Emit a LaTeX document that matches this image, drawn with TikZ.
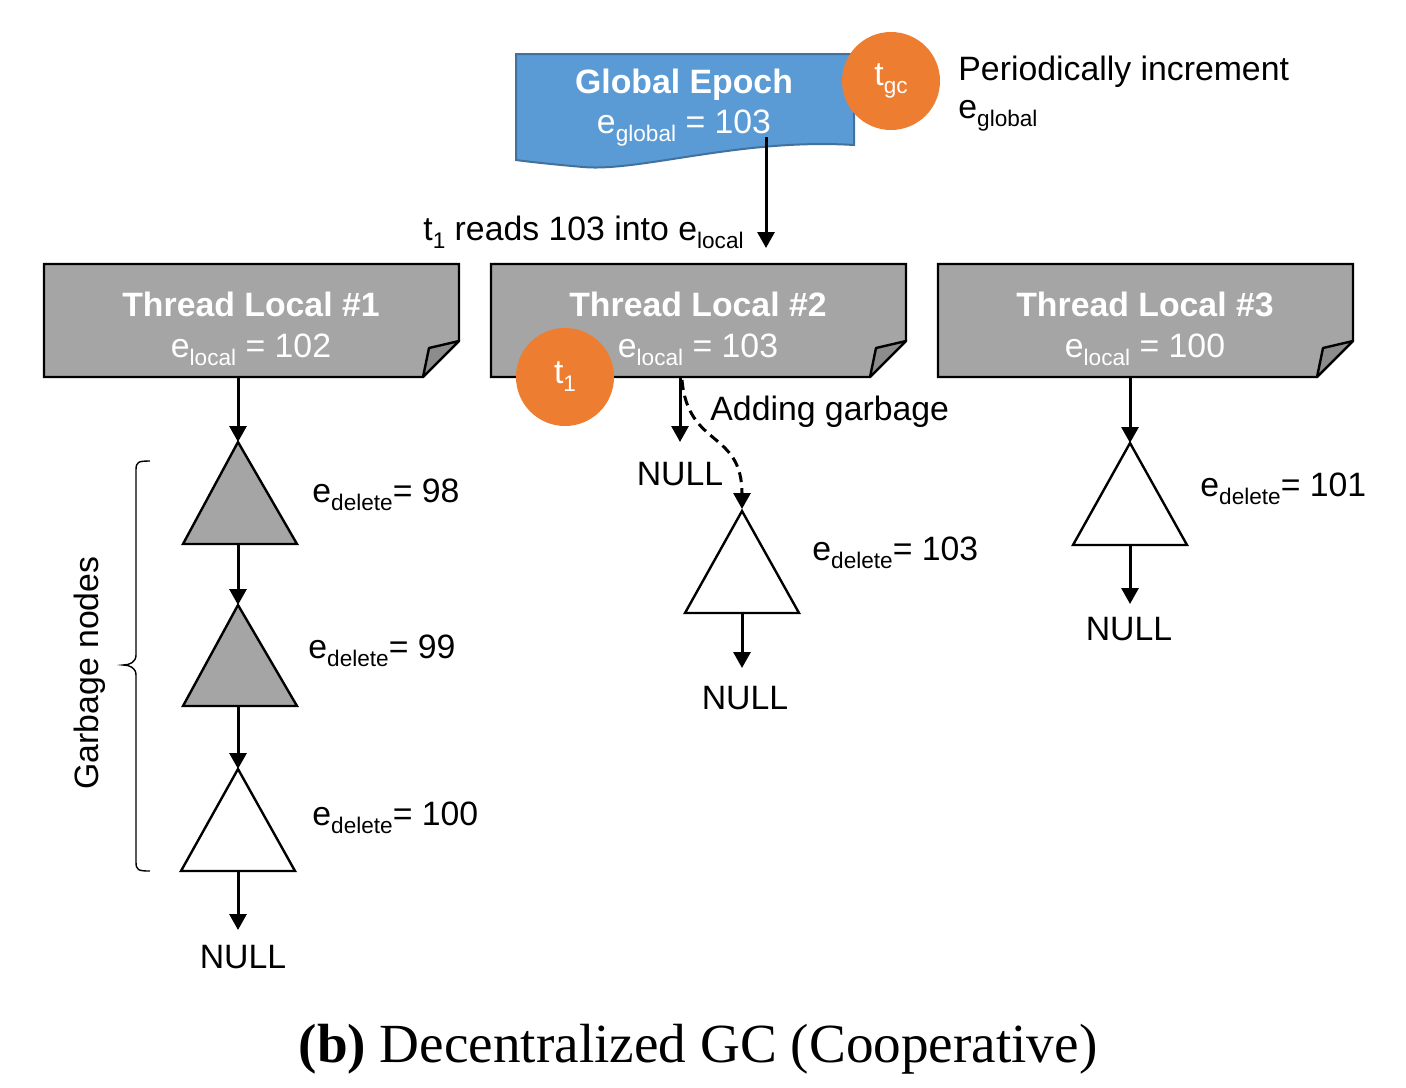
\documentclass[tikz,border=0pt]{standalone}
\usepackage{fontspec}
\setmainfont{Liberation Sans}
\newfontfamily\capfont{Liberation Serif}
\usetikzlibrary{arrows.meta}
\definecolor{epochblue}{HTML}{5B9BD5}
\definecolor{epochedge}{HTML}{41719C}
\definecolor{gcorange}{HTML}{ED7D31}
\definecolor{tlgray}{HTML}{A5A5A5}
\definecolor{foldgray}{HTML}{8C8C8C}
\newcommand\lsub[1]{\raisebox{-4pt}{\fontsize{11.3}{11.3}\selectfont #1}}
\begin{document}
\begin{tikzpicture}[x=0.5pt,y=-0.5pt,
  txt/.style={font=\fontsize{16.9}{18}\selectfont, inner sep=0pt},
  wtxt/.style={txt, text=white},
  arr/.style={line width=1.5pt, -{Triangle[length=8pt,width=8.5pt]}},
  dasharr/.style={line width=1.5pt, dash pattern=on 5pt off 3pt, -{Triangle[length=8pt,width=8.5pt]}},
  tlbox/.style={fill=tlgray, draw=black, line width=1.2pt, line join=miter},
  foldbox/.style={fill=foldgray, draw=black, line width=1.2pt, line join=round},
  tri/.style={draw=black, line width=1.2pt, line join=miter},
  circ/.style={circle, fill=gcorange, minimum size=49pt, inner sep=0pt, text=white, font=\fontsize{16.9}{18}\selectfont},
]
\useasboundingbox (0,0) rectangle (1406,1087);

% Global epoch (document shape)
\draw[fill=epochblue, draw=epochedge, line width=1pt]
  (516,54) -- (854,54) -- (854,145)
  .. controls (740,138) and (640,172) .. (583,167)
  .. controls (560,165) and (530,162) .. (516,160) -- cycle;
\node[wtxt, anchor=base, font=\fontsize{16.9}{18}\selectfont\bfseries] (ge) at (684,93) {Global Epoch};
\node[wtxt, anchor=base] (geval) at (684,133) {e\lsub{global} = 103};
\node[circ] (tgc) at (891,81) {t\lsub{gc}};
\node[txt, anchor=base west] (per1) at (958,80) {Periodically increment};
\node[txt, anchor=base west] (per2) at (958,118) {e\lsub{global}};
\coordinate (gstart) at (766,137);
\coordinate (gend) at (766,248);
\draw[arr] (gstart) -- (gend);
\node[txt, anchor=base east] (reads) at (744,240) {t\lsub{1} reads 103 into e\lsub{local}};

% Thread local boxes
\foreach \dx/\n/\v in {0/1/102, 447/2/103, 894/3/100}{
  \begin{scope}[xshift=\dx*0.5pt]
    \draw[tlbox] (44,264) -- (459,264) -- (459,341) -- (423,377) -- (44,377) -- cycle;
    \draw[foldbox] (459,341) -- (429,348) -- (423,377) -- cycle;
    \node[wtxt, anchor=base, font=\fontsize{16.9}{18}\selectfont\bfseries] (tlt\n) at (251,316) {Thread Local \#\n};
    \node[wtxt, anchor=base] (tlv\n) at (251,357) {e\lsub{local} = \v};
  \end{scope}
}
\node[circ] (t1) at (565,377) {t\lsub{1}};

% Column 1
\coordinate (c1top) at (238,377);
\coordinate (a1) at (238,442); \coordinate (b1) at (238,544);
\coordinate (a2) at (238,605); \coordinate (b2) at (238,706);
\coordinate (a3) at (238,769); \coordinate (b3) at (238,871);
\draw[tri, fill=tlgray] (a1) -- (297,544) -- (183,544) -- cycle;
\draw[tri, fill=tlgray] (a2) -- (297,706) -- (183,706) -- cycle;
\draw[tri, fill=white] (a3) -- (295,871) -- (181,871) -- cycle;
\draw[arr] (c1top) -- (a1);
\draw[arr] (b1) -- (a2);
\draw[arr] (b2) -- (a3);
\node[txt, anchor=base] (null1) at (243,968) {NULL};
\draw[arr] (b3) -- (238,930) coordinate (n1end);
\node[txt, anchor=base west] (ed98) at (312,502) {e\lsub{delete}= 98};
\node[txt, anchor=base west] (ed99) at (308,658) {e\lsub{delete}= 99};
\node[txt, anchor=base west] (ed100) at (312,825) {e\lsub{delete}= 100};

% Brace
\draw[line width=0.7pt] (150,461) .. controls (138,461) and (136,462) .. (136,470)
  -- (136,655) .. controls (136,662) and (130,665) .. (123,665)
  .. controls (130,665) and (136,668) .. (136,675)
  -- (136,862) .. controls (136,870) and (138,871) .. (150,871);
\node[txt, rotate=90] (gn) at (90,673) {Garbage nodes};

% Column 2
\coordinate (c2top) at (680,377);
\coordinate (c2null) at (680,442);
\draw[arr] (c2top) -- (c2null);
\node[txt, anchor=base] (null2) at (680,485) {NULL};
\coordinate (a4) at (742,511); \coordinate (b4) at (742,613);
\draw[tri, fill=white] (a4) -- (799,613) -- (685,613) -- cycle;
\draw[dasharr] (682,380) .. controls (688,448) and (742,430) .. (742,509);
\node[txt, anchor=base west] (adding) at (710,420) {Adding garbage};
\draw[arr] (b4) -- (742,668) coordinate (n3end);
\node[txt, anchor=base] (null3) at (745,709) {NULL};
\node[txt, anchor=base west] (ed103) at (812,560) {e\lsub{delete}= 103};

% Column 3
\coordinate (c3top) at (1130,377);
\coordinate (a5) at (1130,443); \coordinate (b5) at (1130,545);
\draw[tri, fill=white] (a5) -- (1187,545) -- (1073,545) -- cycle;
\draw[arr] (c3top) -- (a5);
\draw[arr] (b5) -- (1130,604) coordinate (n4end);
\node[txt, anchor=base] (null4) at (1129,640) {NULL};
\node[txt, anchor=base west] (ed101) at (1200,496) {e\lsub{delete}= 101};

% Caption
\node[anchor=base, inner sep=0pt, font=\capfont\fontsize{27.6}{30}\selectfont] (cap) at (698,1062) {\textbf{(b)} Decentralized GC (Cooperative)};
\end{tikzpicture}
\end{document}
